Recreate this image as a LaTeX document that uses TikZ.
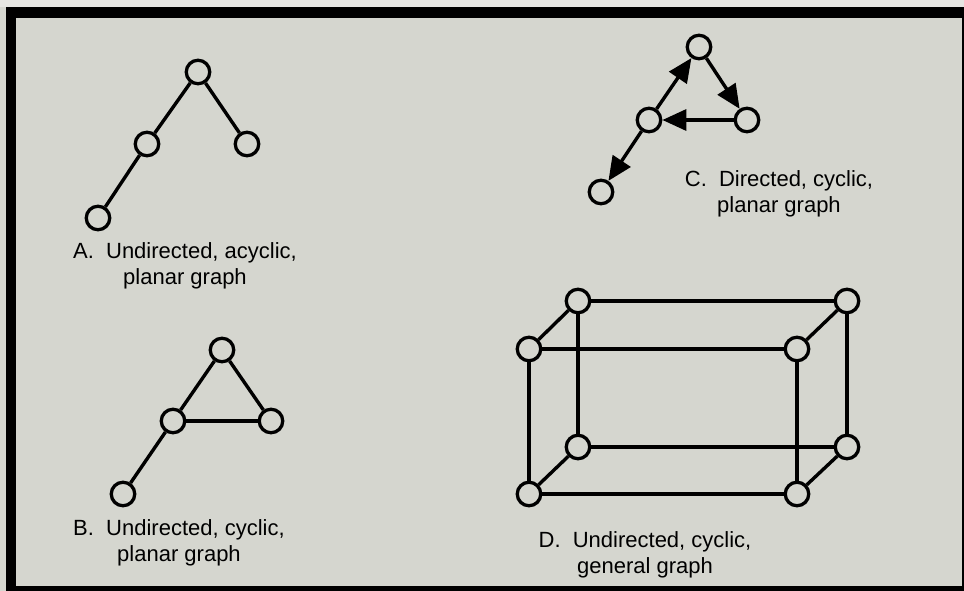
\documentclass[tikz,border=0pt]{standalone}
\usepackage{fontspec}
\setmainfont{Liberation Sans}
\usetikzlibrary{arrows.meta}
\definecolor{paper}{RGB}{213,214,207}
\definecolor{strip}{RGB}{230,230,226}

\begin{document}
\begin{tikzpicture}[x=1pt, y=-1pt,
  vertex/.style={circle, draw, line width=3.3pt, minimum size=23.5pt, inner sep=0pt},
  edge/.style={line width=3.4pt},
  arc/.style={line width=3.4pt, -{Triangle[length=24pt, width=21pt]}},
  caption/.style={align=center, font=\fontsize{22}{26}\selectfont}]
  % Frame
  \useasboundingbox (0,0) rectangle (964,591);
  \fill[strip] (0,0) rectangle (964,591);
  \fill[paper] (0,7) rectangle (964,591);
  \fill[black] (6,7) rectangle (964,18);
  \fill[black] (6,7) rectangle (16,591);
  \fill[black] (6,586) rectangle (964,591);
  \fill[black] (962,7) rectangle (964,591);

  % A
  \node[vertex] (a1) at (198, 72) {};
  \node[vertex] (a2) at (147,144) {};
  \node[vertex] (a3) at (247,144) {};
  \node[vertex] (a4) at ( 98,218) {};
  \draw[edge] (a1) -- (a2);
  \draw[edge] (a1) -- (a3);
  \draw[edge] (a2) -- (a4);
  \node[caption] (capA) at (185,266) {A.\ \ Undirected, acyclic,\\planar graph};

  % B
  \node[vertex] (b1) at (222,350) {};
  \node[vertex] (b2) at (173,421) {};
  \node[vertex] (b3) at (271,421) {};
  \node[vertex] (b4) at (123,494) {};
  \draw[edge] (b1) -- (b2);
  \draw[edge] (b1) -- (b3);
  \draw[edge] (b2) -- (b3);
  \draw[edge] (b2) -- (b4);
  \node[caption] (capB) at (179,543) {B.\ \ Undirected, cyclic,\\planar graph};

  % C
  \node[vertex] (c1) at (699, 47) {};
  \node[vertex] (c2) at (649,120) {};
  \node[vertex] (c3) at (747,120) {};
  \node[vertex] (c4) at (601,192) {};
  \draw[arc] (c2) -- (c1);
  \draw[arc] (c1) -- (c3);
  \draw[arc] (c3) -- (c2);
  \draw[arc] (c2) -- (c4);
  \node[caption] (capC) at (779,194) {C.\ \ Directed, cyclic,\\planar graph};

  % D
  \node[vertex] (d1) at (578,301) {};
  \node[vertex] (d2) at (847,301) {};
  \node[vertex] (d3) at (529,349) {};
  \node[vertex] (d4) at (797,349) {};
  \node[vertex] (d5) at (578,447) {};
  \node[vertex] (d6) at (847,447) {};
  \node[vertex] (d7) at (529,494) {};
  \node[vertex] (d8) at (797,494) {};
  \draw[edge] (d1) -- (d2);
  \draw[edge] (d3) -- (d4);
  \draw[edge] (d5) -- (d6);
  \draw[edge] (d7) -- (d8);
  \draw[edge] (d1) -- (d5);
  \draw[edge] (d2) -- (d6);
  \draw[edge] (d3) -- (d7);
  \draw[edge] (d4) -- (d8);
  \draw[edge] (d1) -- (d3);
  \draw[edge] (d2) -- (d4);
  \draw[edge] (d5) -- (d7);
  \draw[edge] (d6) -- (d8);
  \node[caption] (capD) at (645,555) {D.\ \ Undirected, cyclic,\\general graph};
\end{tikzpicture}
\end{document}
